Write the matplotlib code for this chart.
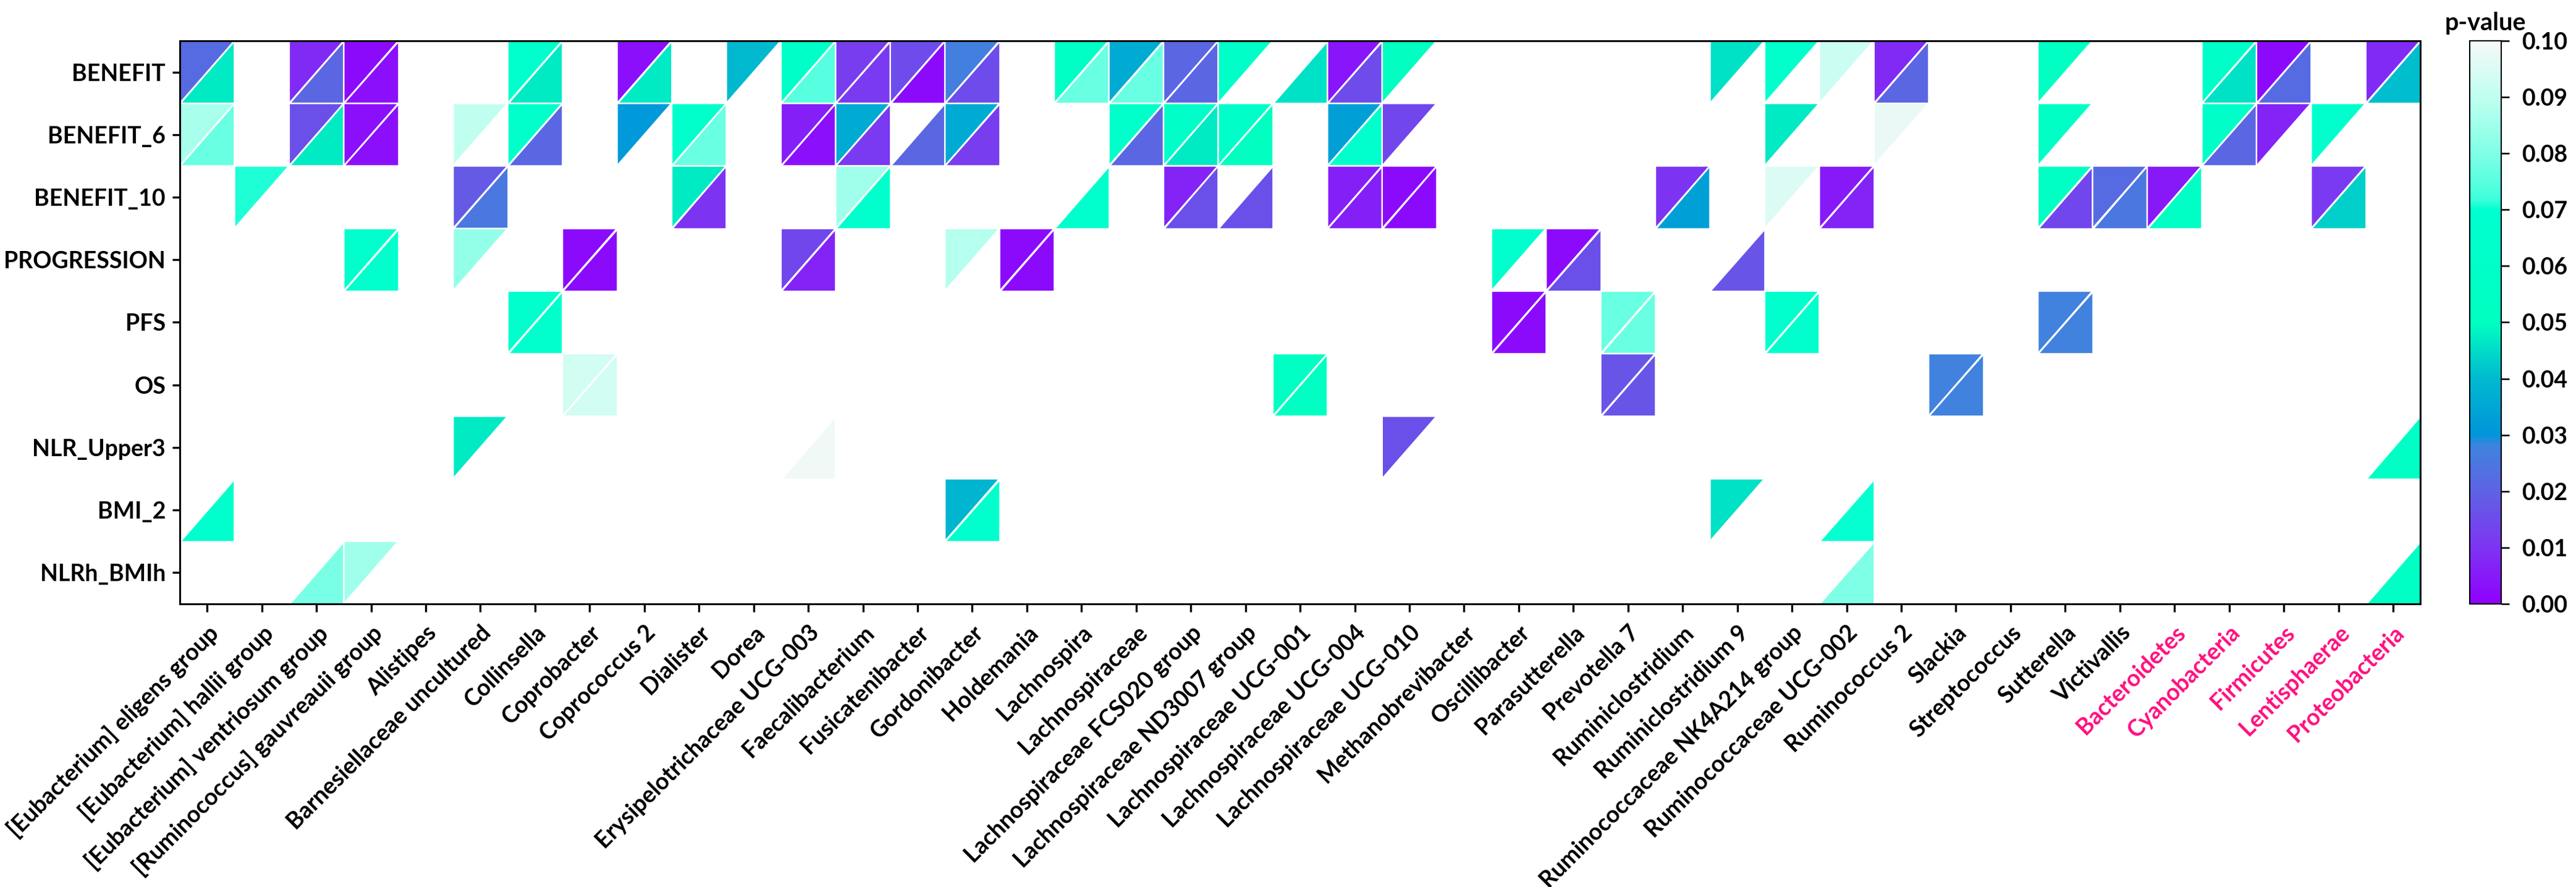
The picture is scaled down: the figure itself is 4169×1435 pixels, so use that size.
import numpy as np
import matplotlib
matplotlib.use("Agg")
import matplotlib.pyplot as plt
from matplotlib.collections import PolyCollection
from matplotlib.colors import LinearSegmentedColormap, Normalize

plt.rcParams['font.family'] = ['Lato', 'DejaVu Sans']
plt.rcParams['font.weight'] = 'bold'

outcomes = ['BENEFIT', 'BENEFIT_6', 'BENEFIT_10', 'PROGRESSION', 'PFS', 'OS',
            'NLR_Upper3', 'BMI_2', 'NLRh_BMIh']

taxa = ['[Eubacterium] eligens group', '[Eubacterium] hallii group',
        '[Eubacterium] ventriosum group', '[Ruminococcus] gauvreauii group',
        'Alistipes', 'Barnesiellaceae uncultured', 'Collinsella', 'Coprobacter',
        'Coprococcus 2', 'Dialister', 'Dorea', 'Erysipelotrichaceae UCG-003',
        'Faecalibacterium', 'Fusicatenibacter', 'Gordonibacter', 'Holdemania',
        'Lachnospira', 'Lachnospiraceae', 'Lachnospiraceae FCS020 group',
        'Lachnospiraceae ND3007 group', 'Lachnospiraceae UCG-001',
        'Lachnospiraceae UCG-004', 'Lachnospiraceae UCG-010', 'Methanobrevibacter',
        'Oscillibacter', 'Parasutterella', 'Prevotella 7', 'Ruminiclostridium',
        'Ruminiclostridium 9', 'Ruminococcaceae NK4A214 group',
        'Ruminococcaceae UCG-002', 'Ruminococcus 2', 'Slackia', 'Streptococcus',
        'Sutterella', 'Victivallis', 'Bacteroidetes', 'Cyanobacteria',
        'Firmicutes', 'Lentisphaerae', 'Proteobacteria']
phyla = ['Bacteroidetes', 'Cyanobacteria', 'Firmicutes', 'Lentisphaerae', 'Proteobacteria']

# (taxon index, p upper-left triangle, p lower-right triangle), None = not significant
benefit = [(0, 0.022, 0.047), (2, 0.008, 0.021), (3, 0.002, 0.003), (6, 0.065, 0.047),
           (8, 0.003, 0.047), (10, 0.040, None), (11, 0.060, 0.075), (12, 0.012, 0.011),
           (13, 0.015, 0.002), (14, 0.027, 0.015), (16, 0.055, 0.077), (17, 0.036, 0.077),
           (18, 0.021, 0.021), (19, 0.060, None), (20, None, 0.046), (21, 0.004, 0.015),
           (22, 0.050, None), (28, 0.046, None), (29, 0.062, None), (30, 0.092, None),
           (31, 0.008, 0.021), (34, 0.052, None), (37, 0.060, 0.046), (38, 0.002, 0.022),
           (40, 0.008, 0.041)]
benefit_6 = [(0, 0.086, 0.077), (2, 0.016, 0.047), (3, 0.003, 0.003), (5, 0.090, None),
             (6, 0.062, 0.021), (8, 0.031, None), (9, 0.062, 0.077), (11, 0.006, 0.003),
             (12, 0.036, 0.011), (13, None, 0.021), (14, 0.036, 0.012), (17, 0.062, 0.021),
             (18, 0.060, 0.047), (19, 0.060, 0.050), (21, 0.033, 0.065), (22, 0.014, None),
             (29, 0.047, None), (31, 0.098, None), (34, 0.055, None), (37, 0.060, 0.021),
             (38, 0.007, None), (39, 0.065, None)]
benefit_10 = [(1, 0.071, None), (5, 0.018, 0.025), (9, 0.047, 0.010), (12, 0.085, 0.065),
              (16, None, 0.065), (18, 0.007, 0.016), (19, None, 0.016), (21, 0.006, 0.006),
              (22, 0.002, 0.002), (27, 0.010, 0.033), (29, 0.095, None), (30, 0.005, 0.007),
              (34, 0.055, 0.014), (35, 0.022, 0.025), (36, 0.005, 0.055), (39, 0.011, 0.043)]
progression = [(3, 0.065, 0.065), (5, 0.083, None), (7, 0.002, 0.002), (11, 0.014, 0.007),
               (14, 0.088, None), (15, 0.002, 0.002), (24, 0.065, None), (25, 0.002, 0.016),
               (28, None, 0.017)]
pfs = [(6, 0.065, 0.065), (24, 0.002, 0.002), (26, 0.077, 0.077), (29, 0.065, 0.065),
       (34, 0.028, 0.028)]
os_ = [(7, 0.093, 0.093), (20, 0.053, 0.053), (26, 0.017, 0.017), (32, 0.028, 0.028)]
nlr_upper3 = [(5, 0.047, None), (11, None, 0.099), (22, 0.016, None), (40, None, 0.055)]
bmi_2 = [(0, None, 0.065), (14, 0.039, 0.065), (28, 0.046, None), (30, None, 0.070)]
nlrh_bmih = [(2, None, 0.079), (3, 0.085, None), (30, None, 0.080), (40, None, 0.055)]

rows = [benefit, benefit_6, benefit_10, progression, pfs, os_, nlr_upper3, bmi_2, nlrh_bmih]

cmap = LinearSegmentedColormap.from_list('pval', [
    (0.00, '#9000FF'), (0.10, '#7D35F2'), (0.20, '#5E63E3'), (0.28, '#3F83DE'),
    (0.30, '#0095DA'), (0.40, '#00B9CF'), (0.50, '#00FFC0'), (0.70, '#00FFD0'),
    (0.72, '#40FFDC'), (0.80, '#7FFFE6'), (0.90, '#BFFFF0'), (1.00, '#F5F8F8')])
norm = Normalize(0, 0.1)

verts, vals = [], []
for i, row in enumerate(rows):
    for j, up, lo in row:
        if up is not None:
            verts.append([(j, i), (j + 1, i), (j, i + 1)])
            vals.append(up)
        if lo is not None:
            verts.append([(j + 1, i), (j + 1, i + 1), (j, i + 1)])
            vals.append(lo)

fig = plt.figure(figsize=(4169 / 300, 1435 / 300), dpi=300)
ax = fig.add_axes([0.0698, 0.3192, 0.8698, 0.6348])
pc = PolyCollection(verts, array=np.array(vals), cmap=cmap, norm=norm,
                    edgecolors='white', linewidths=0.6)
ax.add_collection(pc)
ax.set_xlim(0, len(taxa))
ax.set_ylim(len(outcomes), 0)

ax.set_xticks(np.arange(len(taxa)) + 0.5)
ax.set_xticklabels(taxa, rotation=45, ha='right', rotation_mode='anchor',
                   fontsize=9, fontweight='bold')
for lab in ax.get_xticklabels():
    if lab.get_text() in phyla:
        lab.set_color('#FF0F7F')
ax.set_yticks(np.arange(len(outcomes)) + 0.5)
ax.set_yticklabels(outcomes, fontsize=9, fontweight='bold')
ax.tick_params(axis='both', direction='out', length=3, width=0.8, pad=2.5)
ax.tick_params(axis='x', pad=4)
for sp in ax.spines.values():
    sp.set_linewidth(0.7)

cax = fig.add_axes([0.9587, 0.3192, 0.0122, 0.6348])
cb = fig.colorbar(pc, cax=cax, ticks=np.arange(0, 0.101, 0.01), format='%.2f')
cb.outline.set_linewidth(0.5)
cax.tick_params(length=3, width=0.6, pad=5, labelsize=9)
for lab in cax.get_yticklabels():
    lab.set_fontweight('bold')
cax.set_title('p-value', fontsize=9.5, fontweight='bold', pad=4)

fig.savefig('out.png', dpi=300)
